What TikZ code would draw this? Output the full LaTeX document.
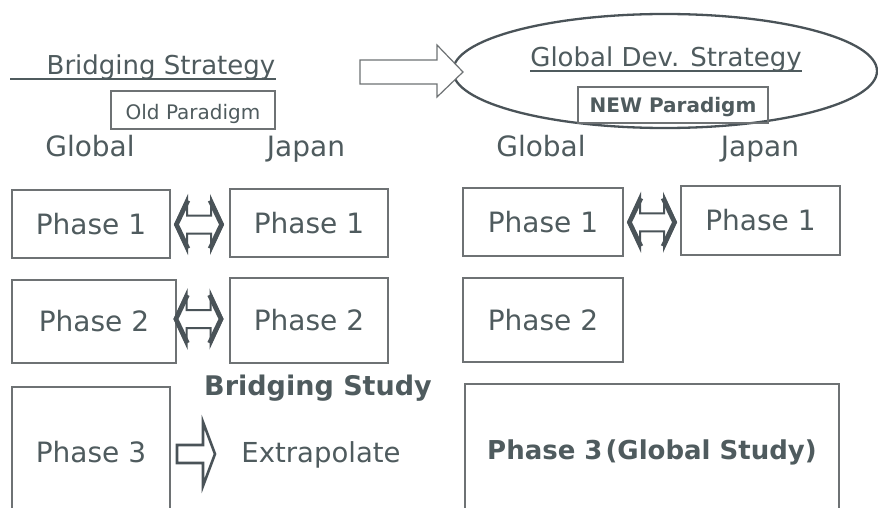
\documentclass[tikz,border=0pt]{standalone}
\usepackage{fontspec}
\setmainfont{DejaVu Sans}
\usetikzlibrary{shapes.geometric,calc}
\definecolor{txt}{HTML}{4F5B5E}
\definecolor{boxc}{HTML}{6E7274}
\definecolor{arrc}{HTML}{4A5358}
\tikzset{
  phasebox/.style={draw=boxc, line width=1.3pt, inner sep=0pt, text=txt,
    font=\fontsize{28}{30}\selectfont},
  label/.style={text=txt, inner sep=0pt, anchor=base},
  hollow/.style={draw=arrc, line width=2.6pt, line join=miter, fill=white},
  thinarrow/.style={draw=boxc, line width=1.2pt, fill=white},
  dblarrow/.pic={
    \path[draw=arrc, fill=white, line width=2pt, line join=miter]
      (-24,0) -- (-12,-26) -- (-12,-9) -- (12,-9) -- (12,-26)
      -- (24,0) -- (12,26) -- (12,9) -- (-12,9) -- (-12,26) -- cycle;
    \draw[arrc, line width=4.5pt, line join=miter, line cap=butt]
      (-11,-24) -- (-22.5,0) -- (-11,24);
    \draw[arrc, line width=4.5pt, line join=miter, line cap=butt]
      (11,-24) -- (22.5,0) -- (11,24);
  },
}
\begin{document}
\begin{tikzpicture}[x=1pt,y=-1pt]
\clip (0,0) rectangle (878,508);
\fill[white] (0,0) rectangle (878,508);

% headers
\node[label, font=\fontsize{26}{28}\selectfont] (bs) at (161,75) {Bridging Strategy};
\draw[txt, line width=1.2pt] (10,79) coordinate (bsl) -- (bsl -| bs.east);
\node[draw=boxc, line width=1.2pt, minimum width=164pt, minimum height=38pt, inner sep=0pt,
      text=txt, font=\fontsize{20}{22}\selectfont] (old) at (193,110) {};
\node[label, font=\fontsize{20}{22}\selectfont] (oldt) at (193,120) {Old Paradigm};

\node[draw=arrc, line width=2.3pt, ellipse, minimum width=424pt, minimum height=114pt,
      inner sep=0pt] (gds) at (665,71) {};
\node[label, font=\fontsize{26}{28}\selectfont] (gd) at (666,67) {Global Dev. Strategy};
\draw[txt, line width=1.2pt] (gd.base west) ++(0,4) coordinate (gdl) -- (gdl -| gd.base east);
\node[draw=boxc, line width=1.2pt, minimum width=190pt, minimum height=36pt, inner sep=0pt] (new) at (673,105) {};
\node[label, font=\bfseries\fontsize{20}{22}\selectfont] (newt) at (673,113) {NEW Paradigm};

% big arrow
\path[thinarrow] (360,60) coordinate (ba) -- (437,60) -- (437,45) -- (463,72) -- (437,97)
   -- (437,84) -- (360,84) -- cycle;

% column labels
\node[label, font=\fontsize{28}{30}\selectfont] (lgl) at (90,157) {Global};
\node[label, font=\fontsize{28}{30}\selectfont] (ljp) at (306,157) {Japan};
\node[label, font=\fontsize{28}{30}\selectfont] (rgl) at (541,157) {Global};
\node[label, font=\fontsize{28}{30}\selectfont] (rjp) at (760,157) {Japan};

% left column boxes
\node[phasebox, minimum width=158pt, minimum height=68pt] (lg1) at (91,224) {Phase 1};
\node[phasebox, minimum width=158pt, minimum height=68pt] (lj1) at (309,223) {Phase 1};
\node[phasebox, minimum width=164pt, minimum height=83pt] (lg2) at (94,321.5) {Phase 2};
\node[phasebox, minimum width=158pt, minimum height=85pt] (lj2) at (309,320.5) {Phase 2};
\node[phasebox, minimum width=158pt, minimum height=130pt] (lg3) at (91,452) {Phase 3};

% right column boxes
\node[phasebox, minimum width=160pt, minimum height=68pt] (rg1) at (543,222) {Phase 1};
\node[phasebox, minimum width=159pt, minimum height=69pt] (rj1) at (760.5,220.5) {Phase 1};
\node[phasebox, minimum width=160pt, minimum height=84pt] (rg2) at (543,320) {Phase 2};
\node[phasebox, minimum width=374pt, minimum height=136pt,
      font=\bfseries\fontsize{26}{28}\selectfont] (rg3) at (652,452) {Phase 3\hspace{3pt}(Global Study)};

% double arrows between boxes
\pic at ($(lg1.east)!0.5!(lj1.west)+(-1,1)$) {dblarrow};
\pic at ($(lg2.east)!0.5!(lj2.west)+(-4.5,-2)$) {dblarrow};
\pic at ($(rg1.east)!0.5!(rj1.west)+(0,1)$) {dblarrow};

% bridging study
\node[label, font=\bfseries\fontsize{27}{29}\selectfont] (bst) at (318,395) {Bridging Study};
\node[label, font=\fontsize{27.5}{29}\selectfont] (ext) at (321,462) {Extrapolate};
\path[hollow] (177,445) coordinate (pa) -- (203,445) -- (203,422) -- (215,454) -- (203,486)
   -- (203,463) -- (177,463) -- cycle;
\end{tikzpicture}
\end{document}
